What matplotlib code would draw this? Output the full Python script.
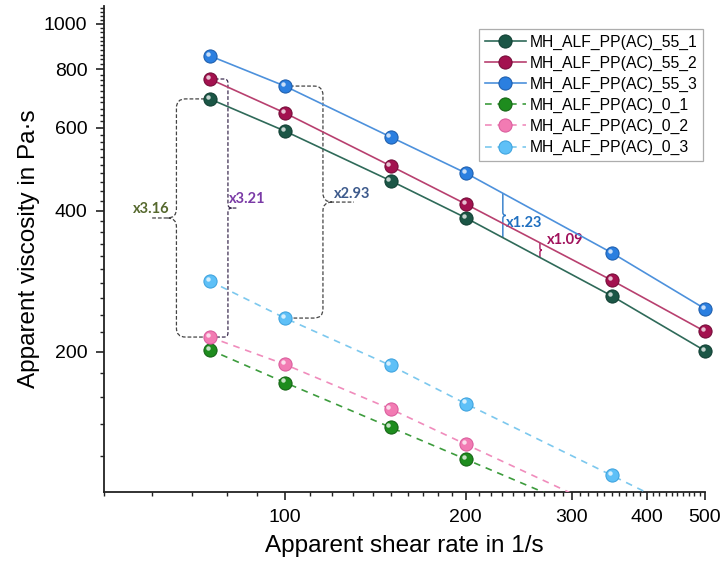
import numpy as np
import matplotlib
matplotlib.use('Agg')
import matplotlib.pyplot as plt
from matplotlib.ticker import FixedLocator, MultipleLocator, NullFormatter, FixedFormatter
from matplotlib.path import Path
from matplotlib.patches import PathPatch
from matplotlib.transforms import offset_copy, Affine2D

# ---------------- data ----------------
shear_55 = [75, 100, 150, 200, 350, 500]
visc_55_1 = [692, 591, 463, 386, 263, 201]
visc_55_2 = [763, 646, 498, 413, 284, 221]
visc_55_3 = [855, 737, 574, 481, 325, 247]

shear_0_12 = [75, 100, 150, 200, 350]
visc_0_1 = [202, 172, 138, 118, 87]
visc_0_2 = [215, 188, 151, 127, 91]

shear_0_3 = [75, 100, 150, 200, 350, 500]
visc_0_3 = [283, 236, 187, 155, 109, 87]

labels = ["MH_ALF_PP(AC)_55_1", "MH_ALF_PP(AC)_55_2", "MH_ALF_PP(AC)_55_3",
          "MH_ALF_PP(AC)_0_1", "MH_ALF_PP(AC)_0_2", "MH_ALF_PP(AC)_0_3"]

x_ticks = [100, 200, 300, 400, 500]
y_ticks = [200, 400, 600, 800, 1000]
ratio_texts = ["x3.16", "x3.21", "x2.93", "x1.23", "x1.09"]

# ---------------- figure ----------------
plt.rcParams['font.family'] = ['Liberation Sans', 'DejaVu Sans']
W_FIG, H_FIG = 7.22, 5.72
fig = plt.figure(figsize=(W_FIG, H_FIG), dpi=100)
ax = fig.add_axes([0.1440, 0.1399, 0.8324, 0.8490])
XLIM = (50, 500)
YLIM = (100.5, 1090)
ax.set_xscale('log')
ax.set_yscale('log')
ax.set_xlim(*XLIM)
ax.set_ylim(*YLIM)

series = [
    (shear_55, visc_55_1, '#2f6a59', '#1b5646', '#0f3d31', '-'),
    (shear_55, visc_55_2, '#b8406f', '#a3124f', '#700a35', '-'),
    (shear_55, visc_55_3, '#4d91dc', '#2b7fe0', '#1a5aa8', '-'),
    (shear_0_12, visc_0_1, '#3d9c3d', '#1e8c1e', '#126012', (0, (4, 3.5))),
    (shear_0_12, visc_0_2, '#f08cbc', '#f27bb3', '#d8589a', (0, (4, 3.5))),
    (shear_0_3, visc_0_3, '#7cc8ee', '#5ec0f7', '#3aa0dc', (0, (4, 3.5))),
]
hl = offset_copy(ax.transData, fig=fig, x=-1.6, y=1.6, units='points')
for i, (xs, ys, lc, fc, ec, ls) in enumerate(series):
    clip = i >= 3
    ax.plot(xs, ys, color=lc, lw=1.2, ls=ls, marker='o', ms=9.5,
            mfc=fc, mec=ec, mew=0.7, label=labels[i], zorder=4, clip_on=clip)
    ax.plot(xs, ys, ls='none', marker='o', ms=3.2, mfc='white', mec='none',
            alpha=0.75, transform=hl, zorder=5, clip_on=clip)

# ---------------- axes styling ----------------
for s in ['top', 'right']:
    ax.spines[s].set_visible(False)
for s in ['left', 'bottom']:
    ax.spines[s].set_linewidth(1.3)
    ax.spines[s].set_color('#222222')

ax.xaxis.set_major_locator(FixedLocator(x_ticks))
ax.xaxis.set_major_formatter(FixedFormatter([str(v) for v in x_ticks]))
ax.xaxis.set_minor_locator(MultipleLocator(10))
ax.xaxis.set_minor_formatter(NullFormatter())
ax.yaxis.set_major_locator(FixedLocator(y_ticks))
ax.yaxis.set_major_formatter(FixedFormatter([str(v) for v in y_ticks]))
ax.yaxis.set_minor_locator(MultipleLocator(20))
ax.yaxis.set_minor_formatter(NullFormatter())
ax.tick_params(which='major', length=6, width=1.2, labelsize=14, pad=6, color='#222222')
ax.tick_params(which='minor', length=3, width=1.0, color='#222222')

ax.set_xlabel('Apparent shear rate in 1/s', fontsize=17.5, labelpad=7)
ax.set_ylabel('Apparent viscosity in Pa·s', fontsize=17.5, labelpad=3)

leg = ax.legend(loc='upper right', bbox_to_anchor=(703 / 722, 1 - 29 / 572),
                bbox_transform=fig.transFigure, fontsize=11.3, frameon=True,
                fancybox=False, edgecolor='#999999', borderpad=0.35,
                labelspacing=0.38, handlelength=2.6, handletextpad=0.25,
                borderaxespad=0.0)
leg.get_frame().set_linewidth(0.9)

# ---------------- brace annotations ----------------
pos = ax.get_position()
AW = pos.width * W_FIG * 100
AH = pos.height * H_FIG * 100
T = Affine2D().scale(1 / AW, 1 / AH) + ax.transAxes


def px(x, y):
    fx = (np.log10(x) - np.log10(XLIM[0])) / (np.log10(XLIM[1]) - np.log10(XLIM[0])) * AW
    fy = (np.log10(y) - np.log10(YLIM[0])) / (np.log10(YLIM[1]) - np.log10(YLIM[0])) * AH
    return fx, fy


def interp_loglog(xs, ys, x):
    return 10 ** np.interp(np.log10(x), np.log10(xs), np.log10(ys))


def brace(xb, yt, yb, xe_t, xe_b, d, r, tail, color, ls, lw=0.9):
    ym = 0.5 * (yt + yb)
    verts, codes = [], []
    if xe_t is not None:
        h = np.sign(xe_t - xb)
        verts += [(xe_t, yt), (xb + h * r, yt), (xb, yt), (xb, yt - r)]
        codes += [Path.MOVETO, Path.LINETO, Path.CURVE3, Path.CURVE3]
    else:
        verts += [(xb, yt)]
        codes += [Path.MOVETO]
    verts += [(xb, ym + r), (xb, ym), (xb + d * r, ym)]
    codes += [Path.LINETO, Path.CURVE3, Path.CURVE3]
    if tail > 0:
        verts += [(xb + d * (r + tail), ym), (xb + d * r, ym)]
        codes += [Path.LINETO, Path.MOVETO]
    else:
        verts += [(xb + d * r, ym)]
        codes += [Path.MOVETO]
    verts += [(xb, ym), (xb, ym - r)]
    codes += [Path.CURVE3, Path.CURVE3]
    if xe_b is not None:
        h = np.sign(xe_b - xb)
        verts += [(xb, yb + r), (xb, yb), (xb + h * r, yb), (xe_b, yb)]
        codes += [Path.LINETO, Path.CURVE3, Path.CURVE3, Path.LINETO]
    else:
        verts += [(xb, yb)]
        codes += [Path.LINETO]
    patch = PathPatch(Path(verts, codes), fill=False, edgecolor=color,
                      lw=lw, ls=ls, transform=T, zorder=3, clip_on=False)
    ax.add_patch(patch)
    return ym


dash = (0, (3, 1.6))
tfont = dict(family=['Lato', 'DejaVu Sans'], weight='bold', fontsize=10.5)

# x3.16 : 55_1 vs low series at 75 1/s
x75, y_top = px(shear_55[0], visc_55_1[0])
_, y_bot = px(shear_0_12[0], visc_0_2[0])
xb, _ = px(66, 300)
ym = brace(xb, y_top, y_bot, x75 - 5, x75 - 5, -1, 9, 16, '#444444', dash)
ax.text(xb - 7, ym + 1.5, ratio_texts[0], transform=T, color='#55682d',
        ha='right', va='bottom', **tfont)

# x3.21 : 55_2 vs 0_2 at 75 1/s
_, y_top = px(shear_55[0], visc_55_2[0])
_, y_bot = px(shear_0_12[0], visc_0_2[0])
xb, _ = px(80.4, 300)
ym = brace(xb, y_top, y_bot, x75 + 5, x75 + 6, 1, 4, 6, '#3c2c50', dash)
ax.text(xb + 1.5, ym + 2, ratio_texts[1], transform=T, color='#7a3aa6',
        ha='left', va='bottom', **tfont)

# x2.93 : 55_3 vs 0_3 at 100 1/s
x100, y_top = px(shear_55[1], visc_55_3[1])
_, y_bot = px(shear_0_3[1], visc_0_3[1])
xb, _ = px(115.7, 300)
ym = brace(xb, y_top, y_bot, x100 + 5, x100 + 5, 1, 9, 22, '#444444', dash)
ax.text(xb + 11, ym + 1.5, ratio_texts[2], transform=T, color='#3d5a8c',
        ha='left', va='bottom', **tfont)

# x1.23 : 55_3 vs 55_1 at ~230 1/s
xr = 230.5
xb, y_top = px(xr, interp_loglog(shear_55, visc_55_3, xr))
_, y_bot = px(xr, interp_loglog(shear_55, visc_55_1, xr))
ym = brace(xb, y_top, y_bot, None, None, 1, 3, 0, '#2a78c8', '-', lw=1.0)
ax.text(xb + 3, ym - 8, ratio_texts[3], transform=T, color='#1f6fc0',
        ha='left', va='center', **tfont)

# x1.09 : 55_2 vs 55_1 at ~266 1/s
xr = 265.7
xb, y_top = px(xr, interp_loglog(shear_55, visc_55_2, xr))
_, y_bot = px(xr, interp_loglog(shear_55, visc_55_1, xr))
ym = brace(xb, y_top, y_bot, None, None, 1, 2, 0, '#a8185e', '-', lw=1.0)
ax.text(xb + 7, ym + 10, ratio_texts[4], transform=T, color='#a0105a',
        ha='left', va='center', **tfont)

fig.savefig('out.png', dpi=100)
